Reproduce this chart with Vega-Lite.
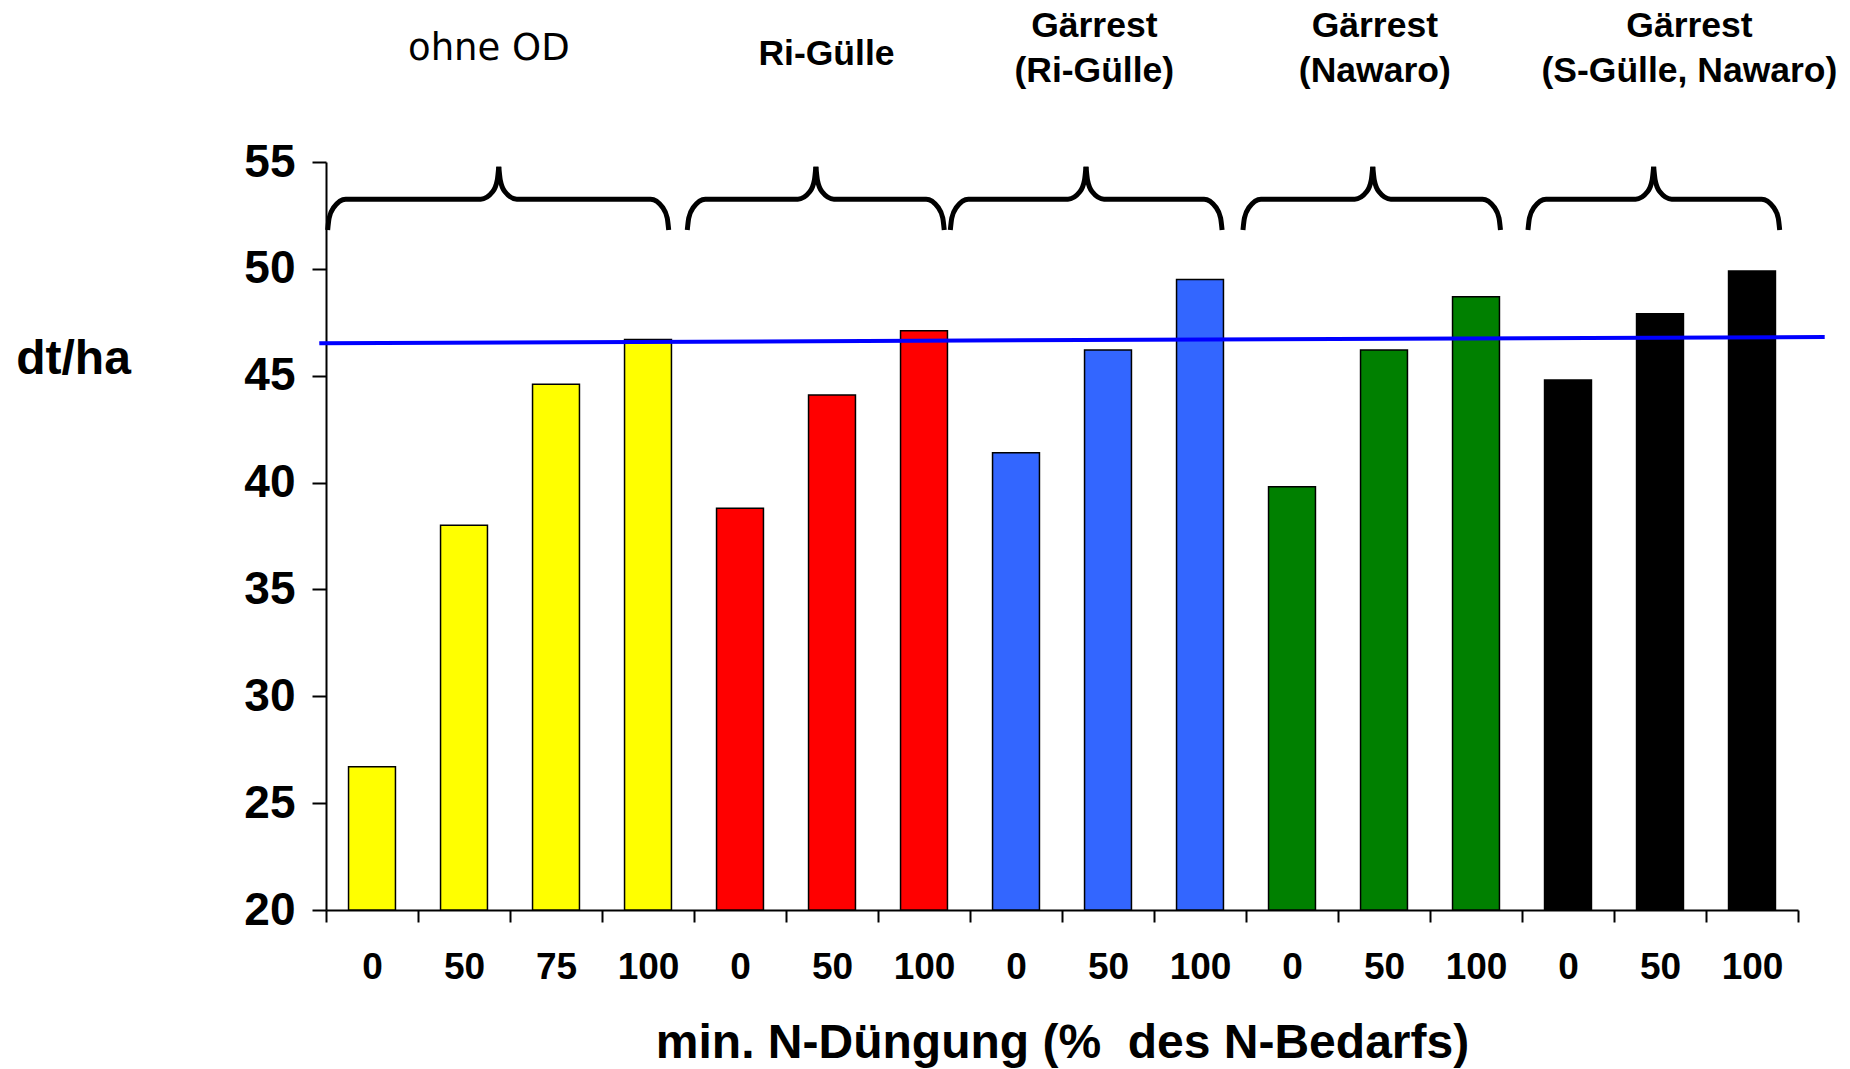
{
  "$schema": "https://vega.github.io/schema/vega-lite/v6.json",
  "width": 1472,
  "height": 748,
  "autosize": {"type": "none"},
  "padding": {"left": 326, "top": 162, "right": 52, "bottom": 159},
  "background": "white",
  "config": {"view": {"stroke": null}, "font": "Liberation Sans"},
  "datasets": {
    "bars": [
      {"bar": "ohne OD: 0", "group": "ohne OD", "value": 26.7},
      {"bar": "ohne OD: 50", "group": "ohne OD", "value": 38.0},
      {"bar": "ohne OD: 75", "group": "ohne OD", "value": 44.6},
      {"bar": "ohne OD: 100", "group": "ohne OD", "value": 46.7},
      {"bar": "Ri-Gülle: 0", "group": "Ri-Gülle", "value": 38.8},
      {"bar": "Ri-Gülle: 50", "group": "Ri-Gülle", "value": 44.1},
      {"bar": "Ri-Gülle: 100", "group": "Ri-Gülle", "value": 47.1},
      {"bar": "Gärrest (Ri-Gülle): 0", "group": "Gärrest (Ri-Gülle)", "value": 41.4},
      {"bar": "Gärrest (Ri-Gülle): 50", "group": "Gärrest (Ri-Gülle)", "value": 46.2},
      {"bar": "Gärrest (Ri-Gülle): 100", "group": "Gärrest (Ri-Gülle)", "value": 49.5},
      {"bar": "Gärrest (Nawaro): 0", "group": "Gärrest (Nawaro)", "value": 39.8},
      {"bar": "Gärrest (Nawaro): 50", "group": "Gärrest (Nawaro)", "value": 46.2},
      {"bar": "Gärrest (Nawaro): 100", "group": "Gärrest (Nawaro)", "value": 48.7},
      {"bar": "Gärrest (S-Gülle, Nawaro): 0", "group": "Gärrest (S-Gülle, Nawaro)", "value": 44.8},
      {"bar": "Gärrest (S-Gülle, Nawaro): 50", "group": "Gärrest (S-Gülle, Nawaro)", "value": 47.9},
      {"bar": "Gärrest (S-Gülle, Nawaro): 100", "group": "Gärrest (S-Gülle, Nawaro)", "value": 49.9}
    ],
    "trend": [
      {"x": -0.073, "y": 46.52},
      {"x": 16.29, "y": 46.81}
    ],
    "braces": [
      {"part": "1L", "x": 0.018, "y": 51.82}, {"part": "1L", "x": 0.034, "y": 52.38}, {"part": "1L", "x": 0.083, "y": 52.87}, {"part": "1L", "x": 0.214, "y": 53.26}, {"part": "1L", "x": 1.682, "y": 53.26}, {"part": "1L", "x": 1.813, "y": 53.62}, {"part": "1L", "x": 1.862, "y": 54.16}, {"part": "1L", "x": 1.878, "y": 54.78},
      {"part": "1R", "x": 1.878, "y": 54.78}, {"part": "1R", "x": 1.894, "y": 54.16}, {"part": "1R", "x": 1.943, "y": 53.62}, {"part": "1R", "x": 2.074, "y": 53.26}, {"part": "1R", "x": 3.529, "y": 53.26}, {"part": "1R", "x": 3.660, "y": 52.87}, {"part": "1R", "x": 3.709, "y": 52.38}, {"part": "1R", "x": 3.725, "y": 51.82},
      {"part": "2L", "x": 3.927, "y": 51.82}, {"part": "2L", "x": 3.943, "y": 52.38}, {"part": "2L", "x": 3.992, "y": 52.87}, {"part": "2L", "x": 4.123, "y": 53.26}, {"part": "2L", "x": 5.129, "y": 53.26}, {"part": "2L", "x": 5.260, "y": 53.62}, {"part": "2L", "x": 5.309, "y": 54.16}, {"part": "2L", "x": 5.325, "y": 54.78},
      {"part": "2R", "x": 5.325, "y": 54.78}, {"part": "2R", "x": 5.341, "y": 54.16}, {"part": "2R", "x": 5.390, "y": 53.62}, {"part": "2R", "x": 5.521, "y": 53.26}, {"part": "2R", "x": 6.524, "y": 53.26}, {"part": "2R", "x": 6.655, "y": 52.87}, {"part": "2R", "x": 6.704, "y": 52.38}, {"part": "2R", "x": 6.720, "y": 51.82},
      {"part": "3L", "x": 6.786, "y": 51.82}, {"part": "3L", "x": 6.802, "y": 52.38}, {"part": "3L", "x": 6.851, "y": 52.87}, {"part": "3L", "x": 6.982, "y": 53.26}, {"part": "3L", "x": 8.065, "y": 53.26}, {"part": "3L", "x": 8.196, "y": 53.62}, {"part": "3L", "x": 8.245, "y": 54.16}, {"part": "3L", "x": 8.261, "y": 54.78},
      {"part": "3R", "x": 8.261, "y": 54.78}, {"part": "3R", "x": 8.277, "y": 54.16}, {"part": "3R", "x": 8.326, "y": 53.62}, {"part": "3R", "x": 8.457, "y": 53.26}, {"part": "3R", "x": 9.544, "y": 53.26}, {"part": "3R", "x": 9.675, "y": 52.87}, {"part": "3R", "x": 9.724, "y": 52.38}, {"part": "3R", "x": 9.740, "y": 51.82},
      {"part": "4L", "x": 9.967, "y": 51.82}, {"part": "4L", "x": 9.983, "y": 52.38}, {"part": "4L", "x": 10.032, "y": 52.87}, {"part": "4L", "x": 10.163, "y": 53.26}, {"part": "4L", "x": 11.182, "y": 53.26}, {"part": "4L", "x": 11.313, "y": 53.62}, {"part": "4L", "x": 11.362, "y": 54.16}, {"part": "4L", "x": 11.378, "y": 54.78},
      {"part": "4R", "x": 11.378, "y": 54.78}, {"part": "4R", "x": 11.394, "y": 54.16}, {"part": "4R", "x": 11.443, "y": 53.62}, {"part": "4R", "x": 11.574, "y": 53.26}, {"part": "4R", "x": 12.570, "y": 53.26}, {"part": "4R", "x": 12.701, "y": 52.87}, {"part": "4R", "x": 12.750, "y": 52.38}, {"part": "4R", "x": 12.766, "y": 51.82},
      {"part": "5L", "x": 13.065, "y": 51.82}, {"part": "5L", "x": 13.081, "y": 52.38}, {"part": "5L", "x": 13.130, "y": 52.87}, {"part": "5L", "x": 13.261, "y": 53.26}, {"part": "5L", "x": 14.235, "y": 53.26}, {"part": "5L", "x": 14.366, "y": 53.62}, {"part": "5L", "x": 14.415, "y": 54.16}, {"part": "5L", "x": 14.431, "y": 54.78},
      {"part": "5R", "x": 14.431, "y": 54.78}, {"part": "5R", "x": 14.447, "y": 54.16}, {"part": "5R", "x": 14.496, "y": 53.62}, {"part": "5R", "x": 14.627, "y": 53.26}, {"part": "5R", "x": 15.605, "y": 53.26}, {"part": "5R", "x": 15.736, "y": 52.87}, {"part": "5R", "x": 15.785, "y": 52.38}, {"part": "5R", "x": 15.801, "y": 51.82}
    ],
    "labelsPlain": [
      {"label": "ohne OD", "x": 1.77, "y": 59.79}
    ],
    "labelsBold": [
      {"label": "Ri-Gülle", "x": 5.44, "y": 59.54},
      {"label": "Gärrest", "x": 8.351, "y": 60.85},
      {"label": "(Ri-Gülle)", "x": 8.351, "y": 58.73},
      {"label": "Gärrest", "x": 11.40, "y": 60.85},
      {"label": "(Nawaro)", "x": 11.40, "y": 58.73},
      {"label": "Gärrest", "x": 14.82, "y": 60.85},
      {"label": "(S-Gülle, Nawaro)", "x": 14.82, "y": 58.73}
    ]
  },
  "resolve": {"scale": {"x": "independent"}, "axis": {"x": "independent"}},
  "layer": [
    {
      "data": {"name": "bars"},
      "mark": {"type": "bar", "stroke": "black", "strokeWidth": 1.5, "width": {"band": 0.51}},
      "encoding": {
        "x": {
          "field": "bar", "type": "nominal", "sort": null,
          "scale": {"paddingInner": 0, "paddingOuter": 0},
          "axis": {
            "labelExpr": "split(datum.label, ': ')[1]",
            "labelAngle": 0,
            "labelFont": "Liberation Sans", "labelFontWeight": "bold", "labelFontSize": 37, "labelColor": "black",
            "labelBaseline": "alphabetic", "labelPadding": 56,
            "tickBand": "extent", "tickSize": 12, "tickWidth": 2, "tickColor": "black",
            "domainColor": "black", "domainWidth": 2,
            "title": "min. N-Düngung (%\u00a0 des N-Bedarfs)",
            "titleFont": "Liberation Sans", "titleFontWeight": "bold", "titleFontSize": 48, "titleColor": "black",
            "titleBaseline": "alphabetic", "titleY": 147
          }
        },
        "y": {
          "field": "value", "type": "quantitative",
          "scale": {"domain": [20, 55], "nice": false, "zero": false},
          "axis": {
            "values": [20, 25, 30, 35, 40, 45, 50, 55],
            "grid": false,
            "labelFont": "Liberation Sans", "labelFontWeight": "bold", "labelFontSize": 46, "labelColor": "black",
            "labelPadding": 17,
            "tickSize": 14, "tickWidth": 2, "tickColor": "black",
            "domainColor": "black", "domainWidth": 2,
            "title": "dt/ha", "titleAngle": 0,
            "titleFont": "Liberation Sans", "titleFontWeight": "bold", "titleFontSize": 48, "titleColor": "black",
            "titleAlign": "center", "titleBaseline": "alphabetic", "titleX": -253, "titleY": 211
          }
        },
        "y2": {"datum": 20},
        "color": {
          "field": "group", "type": "nominal", "legend": null,
          "scale": {
            "domain": ["ohne OD", "Ri-Gülle", "Gärrest (Ri-Gülle)", "Gärrest (Nawaro)", "Gärrest (S-Gülle, Nawaro)"],
            "range": ["#FFFF00", "#FF0000", "#3366FF", "#008000", "#000000"]
          }
        }
      }
    },
    {
      "data": {"name": "trend"},
      "mark": {"type": "line", "color": "#0000FF", "strokeWidth": 4},
      "encoding": {
        "x": {"field": "x", "type": "quantitative", "scale": {"domain": [0, 16], "nice": false, "zero": false}, "axis": null},
        "y": {"field": "y", "type": "quantitative"}
      }
    },
    {
      "data": {"name": "braces"},
      "mark": {"type": "line", "color": "black", "strokeWidth": 5, "interpolate": "monotone"},
      "encoding": {
        "x": {"field": "x", "type": "quantitative", "scale": {"domain": [0, 16], "nice": false, "zero": false}, "axis": null},
        "y": {"field": "y", "type": "quantitative"},
        "detail": {"field": "part", "type": "nominal"}
      }
    },
    {
      "data": {"name": "labelsPlain"},
      "mark": {"type": "text", "font": "DejaVu Sans", "fontSize": 37, "align": "center", "baseline": "alphabetic", "color": "black"},
      "encoding": {
        "x": {"field": "x", "type": "quantitative", "scale": {"domain": [0, 16], "nice": false, "zero": false}, "axis": null},
        "y": {"field": "y", "type": "quantitative"},
        "text": {"field": "label"}
      }
    },
    {
      "data": {"name": "labelsBold"},
      "mark": {"type": "text", "font": "Liberation Sans", "fontWeight": "bold", "fontSize": 35.5, "align": "center", "baseline": "alphabetic", "color": "black"},
      "encoding": {
        "x": {"field": "x", "type": "quantitative", "scale": {"domain": [0, 16], "nice": false, "zero": false}, "axis": null},
        "y": {"field": "y", "type": "quantitative"},
        "text": {"field": "label"}
      }
    }
  ]
}
